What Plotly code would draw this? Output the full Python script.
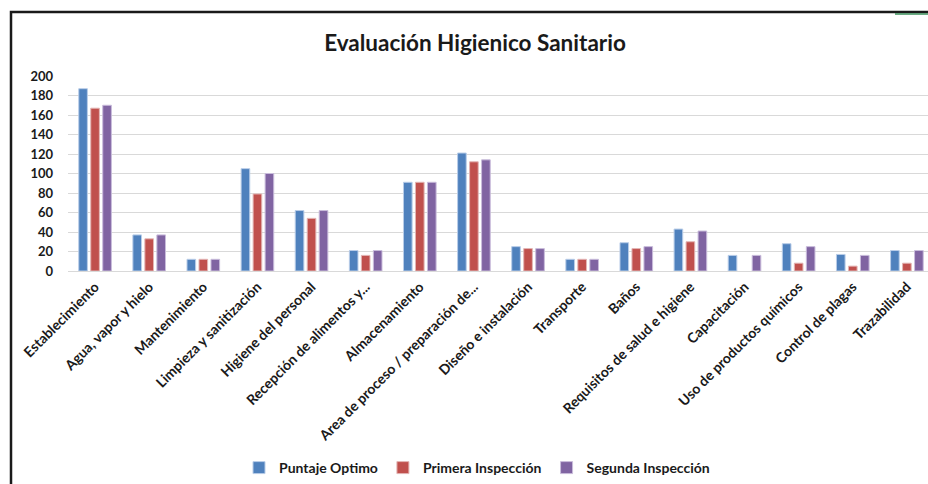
import plotly.graph_objects as go

categories = [
    "Establecimiento", "Agua, vapor y hielo", "Mantenimiento", "Limpieza y sanitización",
    "Higiene del personal", "Recepción de alimentos y...", "Almacenamiento",
    "Area de proceso / preparación de...", "Diseño e instalación", "Transporte", "Baños",
    "Requisitos de salud e higiene", "Capacitación", "Uso de productos químicos",
    "Control de plagas", "Trazabilidad",
]
puntaje_optimo = [187, 37, 12, 105, 62, 21, 91, 121, 25, 12, 29, 43, 16, 28, 17, 21]
primera_inspeccion = [167, 33, 12, 79, 54, 16, 91, 112, 23, 12, 23, 30, 0, 8, 5, 8]
segunda_inspeccion = [170, 37, 12, 100, 62, 21, 91, 114, 23, 12, 25, 41, 16, 25, 16, 21]
series_names = ["Puntaje Optimo", "Primera Inspección", "Segunda Inspección"]
y_ticks = [0, 20, 40, 60, 80, 100, 120, 140, 160, 180, 200]

colors = ["#4F81BD", "#C0504D", "#8064A2"]
edge = ["#B9CDE8", "#E3B5B4", "#C9BCDB"]

W, H = 928, 484
ML, MR, MT, MB = 68, 0, 76, 213
PW, PH = W - ML - MR, H - MT - MB

def px_x(px):
    return (px - ML) / PW

def px_y(py):
    return (H - MB - py) / PH

fig = go.Figure()
for name, vals, c, e in zip(series_names, [puntaje_optimo, primera_inspeccion, segunda_inspeccion], colors, edge):
    fig.add_trace(go.Bar(
        x=categories, y=vals, name=name,
        marker=dict(color=c, line=dict(color=e, width=[1 if v else 0 for v in vals])),
    ))

fig.update_layout(
    width=W, height=H,
    margin=dict(l=ML, r=MR, t=MT, b=MB, autoexpand=False),
    paper_bgcolor="white", plot_bgcolor="white",
    barmode="group", bargap=0.335, bargroupgap=0.28,
    font=dict(family="Lato, Open Sans, sans-serif", color="#1a1a1a"),
    title=dict(
        text="<b>Evaluación Higienico Sanitario</b>",
        x=px_x(475), xref="paper", xanchor="center",
        y=1 - 43 / H, yref="container", yanchor="middle",
        font=dict(size=22.5, color="#1a1a1a", family="Lato, Open Sans, sans-serif"),
    ),
    legend=dict(
        orientation="h", x=px_x(477), xanchor="center", y=px_y(468), yanchor="middle",
        font=dict(size=14, color="#1a1a1a", weight="bold"),
        itemwidth=30, traceorder="normal",
    ),
    xaxis=dict(
        range=[-0.5, 15.39], tickangle=-45, showgrid=False, showline=False, ticks="",
        tickfont=dict(size=14, color="#1a1a1a", weight="bold"),
        ticklabelstandoff=4,
    ),
    yaxis=dict(
        range=[0, 200], tickvals=y_ticks, showgrid=True, gridcolor="#D9D9D9", gridwidth=1,
        zeroline=True, zerolinecolor="#D9D9D9", zerolinewidth=1, showline=False, ticks="",
        tickfont=dict(size=13, color="#1a1a1a", weight="bold"),
        ticklabelstandoff=14,
    ),
    shapes=[
        dict(type="rect", xref="paper", yref="paper",
             x0=px_x(11), x1=px_x(945), y0=px_y(520), y1=px_y(12),
             line=dict(color="#1a1a1a", width=2.5), fillcolor="rgba(0,0,0,0)", layer="above"),
        dict(type="line", xref="paper", yref="paper",
             x0=px_x(895), x1=px_x(930), y0=px_y(14), y1=px_y(14),
             line=dict(color="#3A8F5A", width=1.5), layer="above"),
    ],
)

fig.write_html(
    "out.html",
    config={"displayModeBar": False},
    post_script="document.body.style.margin='0px';document.body.style.overflow='hidden';",
)
